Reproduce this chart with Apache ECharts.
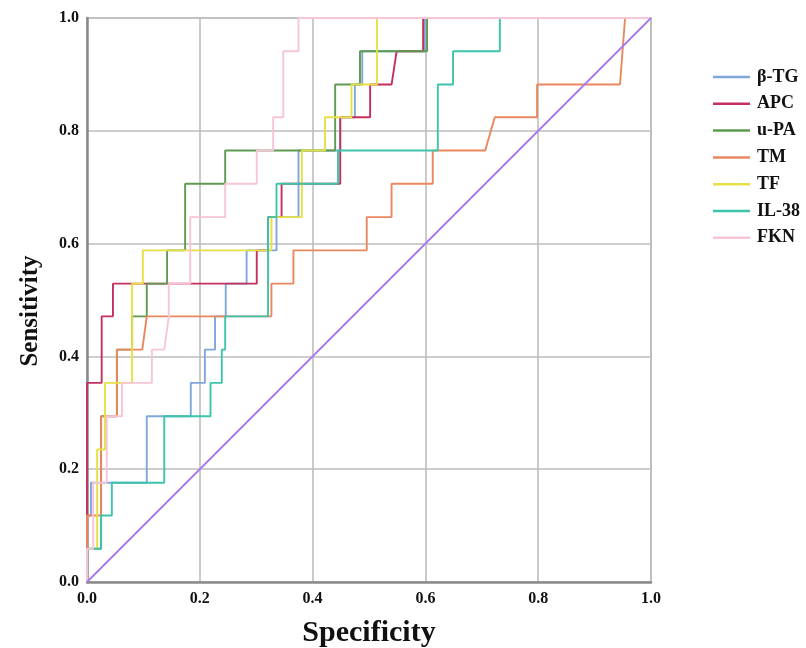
<!DOCTYPE html>
<html>
<head>
<meta charset="utf-8">
<script src="https://cdn.jsdelivr.net/npm/echarts@6/dist/echarts.min.js"></script>
<style>
html,body{margin:0;padding:0;background:#fff;}
#chart{width:806px;height:648px;}
</style>
</head>
<body>
<div id="chart"></div>
<script>
// Specificity (x) and Sensitivity (y) vertices of each ROC curve
const seriesNames = ['β-TG', 'APC', 'u-PA', 'TM', 'TF', 'IL-38', 'FKN'];
const tickLabels = ['0.0', '0.2', '0.4', '0.6', '0.8', '1.0'];

const betaTG_x = [0, 0, 0.007, 0.007, 0.106, 0.106, 0.184, 0.184, 0.209, 0.209, 0.227, 0.227, 0.246, 0.246, 0.283, 0.283, 0.336, 0.336, 0.375, 0.375, 0.449, 0.449, 0.475, 0.475, 0.488, 0.488, 0.599, 0.599, 1];
const betaTG_y = [0, 0.118, 0.118, 0.176, 0.176, 0.294, 0.294, 0.353, 0.353, 0.412, 0.412, 0.471, 0.471, 0.529, 0.529, 0.588, 0.588, 0.647, 0.647, 0.765, 0.765, 0.824, 0.824, 0.882, 0.882, 0.941, 0.941, 1, 1];

const apc_x = [0, 0, 0.026, 0.026, 0.046, 0.046, 0.301, 0.301, 0.321, 0.321, 0.345, 0.345, 0.449, 0.449, 0.502, 0.502, 0.540, 0.549, 0.596, 0.596, 1];
const apc_y = [0, 0.353, 0.353, 0.471, 0.471, 0.529, 0.529, 0.588, 0.588, 0.647, 0.647, 0.706, 0.706, 0.824, 0.824, 0.882, 0.882, 0.941, 0.941, 1, 1];

const upa_x = [0, 0, 0.025, 0.025, 0.053, 0.053, 0.080, 0.080, 0.106, 0.106, 0.142, 0.142, 0.174, 0.174, 0.245, 0.245, 0.440, 0.440, 0.484, 0.484, 0.603, 0.603, 1];
const upa_y = [0, 0.059, 0.059, 0.294, 0.294, 0.412, 0.412, 0.471, 0.471, 0.529, 0.529, 0.588, 0.588, 0.706, 0.706, 0.765, 0.765, 0.882, 0.882, 0.941, 0.941, 1, 1];

const tm_x = [0, 0, 0.025, 0.025, 0.053, 0.053, 0.098, 0.106, 0.327, 0.327, 0.366, 0.366, 0.496, 0.496, 0.540, 0.540, 0.613, 0.613, 0.706, 0.723, 0.798, 0.798, 0.945, 0.954, 1];
const tm_y = [0, 0.118, 0.118, 0.294, 0.294, 0.412, 0.412, 0.471, 0.471, 0.529, 0.529, 0.588, 0.588, 0.647, 0.647, 0.706, 0.706, 0.765, 0.765, 0.824, 0.824, 0.882, 0.882, 1, 1];

const tf_x = [0, 0, 0.018, 0.018, 0.032, 0.032, 0.080, 0.080, 0.099, 0.099, 0.327, 0.327, 0.381, 0.381, 0.422, 0.422, 0.469, 0.469, 0.514, 0.514, 1];
const tf_y = [0, 0.059, 0.059, 0.235, 0.235, 0.353, 0.353, 0.529, 0.529, 0.588, 0.588, 0.647, 0.647, 0.765, 0.765, 0.824, 0.824, 0.882, 0.882, 1, 1];

const il38_x = [0, 0, 0.025, 0.025, 0.044, 0.044, 0.137, 0.137, 0.219, 0.219, 0.239, 0.239, 0.245, 0.245, 0.321, 0.321, 0.336, 0.336, 0.445, 0.445, 0.622, 0.622, 0.649, 0.649, 0.732, 0.732, 1];
const il38_y = [0, 0.059, 0.059, 0.118, 0.118, 0.176, 0.176, 0.294, 0.294, 0.353, 0.353, 0.412, 0.412, 0.471, 0.471, 0.647, 0.647, 0.706, 0.706, 0.765, 0.765, 0.882, 0.882, 0.941, 0.941, 1, 1];

const fkn_x = [0, 0, 0.011, 0.011, 0.035, 0.035, 0.062, 0.062, 0.115, 0.115, 0.137, 0.145, 0.145, 0.183, 0.183, 0.245, 0.245, 0.301, 0.301, 0.330, 0.330, 0.348, 0.348, 0.375, 0.375, 1];
const fkn_y = [0, 0.059, 0.059, 0.176, 0.176, 0.294, 0.294, 0.353, 0.353, 0.412, 0.412, 0.471, 0.529, 0.529, 0.647, 0.647, 0.706, 0.706, 0.765, 0.765, 0.824, 0.824, 0.941, 0.941, 1, 1];

const ref_x = [0, 1];
const ref_y = [0, 1];

const colors = ['#7fa7db', '#c4305c', '#5e9a50', '#ea875f', '#e6e044', '#3ec4aa', '#f7c6d6'];
const refColor = '#a878ee';

function pts(xs, ys) { return xs.map((x, i) => [x, ys[i]]); }
const curves = [
  pts(betaTG_x, betaTG_y), pts(apc_x, apc_y), pts(upa_x, upa_y), pts(tm_x, tm_y),
  pts(tf_x, tf_y), pts(il38_x, il38_y), pts(fkn_x, fkn_y)
];

const serif = '"Liberation Serif", "Times New Roman", serif';
const chart = echarts.init(document.getElementById('chart'), null, {renderer: 'canvas'});

const series = curves.map((d, i) => ({
  name: seriesNames[i], type: 'line', data: d, symbol: 'none', showSymbol: false,
  lineStyle: {color: colors[i], width: 1.9}, itemStyle: {color: colors[i]},
  animation: false, z: 3
}));
series.push({
  name: 'ref', type: 'line', data: pts(ref_x, ref_y), symbol: 'none',
  lineStyle: {color: refColor, width: 1.8}, animation: false, z: 4
});

const axisCommon = {
  type: 'value', min: 0, max: 1, interval: 0.2,
  axisLine: {show: true, lineStyle: {color: '#8a8a8a', width: 2.5}},
  axisTick: {show: false},
  splitLine: {show: true, lineStyle: {color: '#bdbdbd', width: 1.6}},
  axisLabel: {
    fontFamily: serif, fontWeight: 'bold', fontSize: 16, color: '#111',
    formatter: v => tickLabels[Math.round(v / 0.2)]
  }
};

chart.setOption({
  backgroundColor: '#fff',
  animation: false,
  grid: {left: 87, top: 18, width: 564, height: 564, show: true, borderColor: '#bdbdbd', borderWidth: 1.6,
         containLabel: false, outerBoundsMode: 'none'},
  xAxis: Object.assign({}, axisCommon, {
    name: 'Specificity', nameLocation: 'middle', nameGap: 36,
    nameTextStyle: {fontFamily: serif, fontWeight: 'bold', fontSize: 30, color: '#111'},
    axisLabel: Object.assign({}, axisCommon.axisLabel, {margin: 9})
  }),
  yAxis: Object.assign({}, axisCommon, {
    name: 'Sensitivity', nameLocation: 'middle', nameGap: 44,
    nameTextStyle: {fontFamily: serif, fontWeight: 'bold', fontSize: 25, color: '#111', padding: [0, 22, 0, 0]},
    axisLabel: Object.assign({}, axisCommon.axisLabel, {margin: 8})
  }),
  legend: {
    orient: 'vertical', left: 708, top: 63,
    data: seriesNames,
    icon: 'rect', itemWidth: 37, itemHeight: 2.5, itemGap: 8.8,
    textStyle: {fontFamily: serif, fontWeight: 'bold', fontSize: 18, color: '#111', padding: [0, 0, 0, 2]}
  },
  series: series
});
</script>
</body>
</html>
